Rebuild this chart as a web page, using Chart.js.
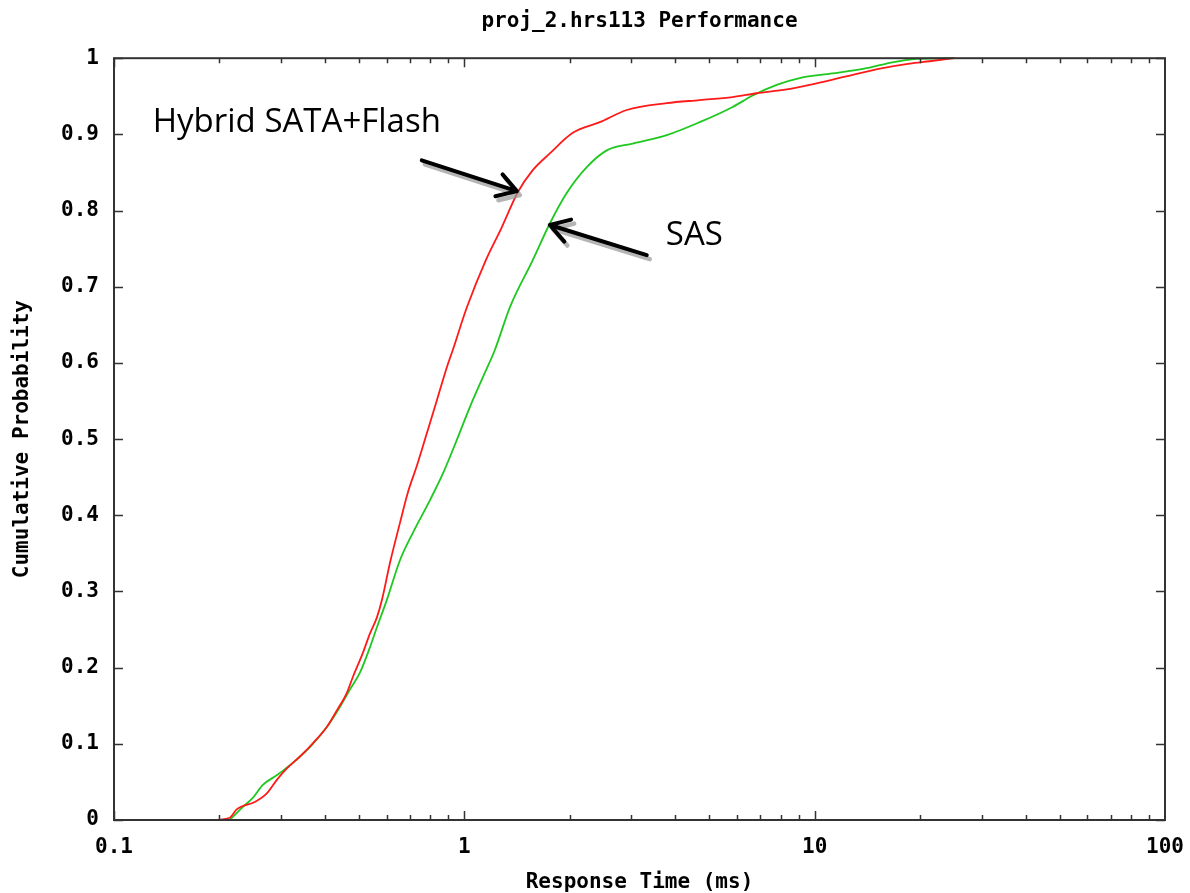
<!DOCTYPE html>
<html>
<head>
<meta charset="utf-8">
<title>proj_2.hrs113 Performance</title>
<script src="https://cdn.jsdelivr.net/npm/chart.js@4.4.1/dist/chart.umd.min.js"></script>
<style>
  html, body { margin: 0; padding: 0; background: #fff; }
  #wrap { width: 1190px; height: 893px; }
</style>
</head>
<body>
<div id="wrap"><canvas id="perfChart"></canvas></div>
<script>
// response time (ms) and cumulative probability
const hybridTime = [0.191, 0.214, 0.224, 0.253, 0.273, 0.292, 0.312, 0.339, 0.370, 0.405, 0.433, 0.462, 0.481, 0.513, 0.538, 0.563, 0.582, 0.613, 0.655, 0.690, 0.732, 0.782, 0.835, 0.891, 0.927, 1.017, 1.152, 1.279, 1.421, 1.568, 1.754, 2.040, 2.436, 2.909, 3.783, 4.697, 5.834, 6.831, 8.321, 10.13, 12.02, 15.63, 18.66, 21.29, 25.08];
const hybridProb = [0, 0.003, 0.014, 0.024, 0.035, 0.053, 0.068, 0.083, 0.101, 0.122, 0.144, 0.167, 0.188, 0.219, 0.245, 0.266, 0.289, 0.337, 0.390, 0.430, 0.465, 0.508, 0.551, 0.594, 0.617, 0.673, 0.735, 0.778, 0.824, 0.853, 0.875, 0.902, 0.916, 0.932, 0.941, 0.945, 0.949, 0.954, 0.959, 0.967, 0.975, 0.987, 0.993, 0.996, 1.0];

const sasTime = [0.214, 0.233, 0.249, 0.266, 0.292, 0.318, 0.363, 0.405, 0.441, 0.471, 0.503, 0.538, 0.563, 0.601, 0.655, 0.713, 0.798, 0.869, 0.952, 1.037, 1.129, 1.222, 1.349, 1.568, 1.754, 1.960, 2.236, 2.551, 3.025, 3.783, 4.697, 5.834, 6.654, 7.790, 9.062, 11.25, 14.07, 16.05, 19.54, 24.75];
const sasProb = [0, 0.017, 0.029, 0.046, 0.059, 0.072, 0.096, 0.122, 0.148, 0.171, 0.193, 0.227, 0.253, 0.289, 0.341, 0.377, 0.420, 0.455, 0.499, 0.542, 0.581, 0.617, 0.673, 0.735, 0.783, 0.823, 0.857, 0.879, 0.888, 0.899, 0.916, 0.936, 0.951, 0.965, 0.974, 0.980, 0.987, 0.993, 0.999, 1.0];

const xTickValues = [0.1, 1, 10, 100];
const xTickLabels = ['0.1', '1', '10', '100'];
const yTickLabels = ['0', '0.1', '0.2', '0.3', '0.4', '0.5', '0.6', '0.7', '0.8', '0.9', '1'];

const gnuFont = '"DejaVu Sans Mono", monospace';

function toPoints(xs, ys) {
    return xs.map((x, i) => ({ x: x, y: ys[i] }));
}

// hand-drawn labels with arrows, placed in data units
const notes = [
    { text: 'Hybrid SATA+Flash', tx: 0.129, ty: 0.903, from: [0.756, 0.866], to: [1.412, 0.8255] },
    { text: 'SAS', tx: 3.76, ty: 0.755, from: [3.317, 0.7415], to: [1.754, 0.781] }
];

// gnuplot style frame with inward ticks on all four sides
const framePlugin = {
    id: 'frame',
    afterDatasetsDraw(chart) {
        const { ctx, chartArea: a, scales: { x, y } } = chart;
        ctx.save();
        ctx.strokeStyle = '#333';
        ctx.lineWidth = 2;
        ctx.strokeRect(a.left, a.top, a.right - a.left, a.bottom - a.top);
        ctx.lineWidth = 1.5;
        ctx.beginPath();
        [0.1, 1, 10].forEach(d => {
            for (let m = 1; m <= 9; m++) {
                const px = Math.round(x.getPixelForValue(d * m)) + 0.5;
                const len = m === 1 ? 9 : 5;
                ctx.moveTo(px, a.bottom); ctx.lineTo(px, a.bottom - len);
                ctx.moveTo(px, a.top); ctx.lineTo(px, a.top + len);
            }
        });
        yTickLabels.forEach(t => {
            const py = Math.round(y.getPixelForValue(parseFloat(t))) + 0.5;
            ctx.moveTo(a.left, py); ctx.lineTo(a.left + 9, py);
            ctx.moveTo(a.right, py); ctx.lineTo(a.right - 9, py);
        });
        ctx.stroke();
        ctx.restore();
    }
};

function arrow(ctx, x1, y1, x2, y2) {
    const ang = Math.atan2(y1 - y2, x1 - x2);
    const hl = 22, spread = 0.55;
    ctx.beginPath();
    ctx.moveTo(x1, y1); ctx.lineTo(x2, y2);
    ctx.moveTo(x2 + hl * Math.cos(ang + spread), y2 + hl * Math.sin(ang + spread));
    ctx.lineTo(x2, y2);
    ctx.lineTo(x2 + hl * Math.cos(ang - spread), y2 + hl * Math.sin(ang - spread));
    ctx.stroke();
}

const notesPlugin = {
    id: 'notes',
    afterDraw(chart) {
        const { ctx, scales: { x, y } } = chart;
        ctx.save();
        ctx.font = '33px "Open Sans", sans-serif';
        ctx.fillStyle = '#000';
        ctx.textBaseline = 'alphabetic';
        ctx.lineCap = 'round';
        ctx.lineJoin = 'round';
        notes.forEach(n => {
            ctx.fillText(n.text, x.getPixelForValue(n.tx), y.getPixelForValue(n.ty));
            const x1 = x.getPixelForValue(n.from[0]), y1 = y.getPixelForValue(n.from[1]);
            const x2 = x.getPixelForValue(n.to[0]), y2 = y.getPixelForValue(n.to[1]);
            ctx.strokeStyle = 'rgba(150,150,150,0.7)';
            ctx.lineWidth = 4.5;
            arrow(ctx, x1 + 3, y1 + 4, x2 + 3, y2 + 4);
            ctx.strokeStyle = '#000';
            ctx.lineWidth = 4;
            arrow(ctx, x1, y1, x2, y2);
        });
        ctx.restore();
    }
};

const tickFont = { family: gnuFont, size: 21, weight: 'bold', lineHeight: 1.2 };

const ctx = document.getElementById('perfChart').getContext('2d');
const perfChart = new Chart(ctx, {
    type: 'line',
    data: {
        datasets: [{
            label: 'Hybrid SATA+Flash',
            data: toPoints(hybridTime, hybridProb),
            borderColor: '#ff1a1a',
            borderWidth: 1.8,
            pointRadius: 0,
            cubicInterpolationMode: 'monotone',
            clip: false
        }, {
            label: 'SAS',
            data: toPoints(sasTime, sasProb),
            borderColor: '#1ec81e',
            borderWidth: 1.8,
            pointRadius: 0,
            cubicInterpolationMode: 'monotone',
            clip: false
        }]
    },
    options: {
        responsive: true,
        maintainAspectRatio: false,
        animation: false,
        layout: { padding: { left: 0, right: 25, top: 0, bottom: 0 } },
        scales: {
            x: {
                type: 'logarithmic',
                min: 0.1,
                max: 100,
                afterBuildTicks: s => { s.ticks = xTickValues.map(v => ({ value: v, major: true })); },
                afterFit: s => { s.height = 73; s.paddingLeft = 0; s.paddingRight = 0; },
                grid: { display: false, drawTicks: false },
                border: { display: false },
                ticks: {
                    autoSkip: false,
                    maxRotation: 0,
                    padding: 15,
                    color: '#000',
                    font: tickFont,
                    callback: (v, i) => xTickLabels[i]
                },
                title: {
                    display: true,
                    text: 'Response Time (ms)',
                    color: '#000',
                    font: { family: gnuFont, size: 21, weight: 'bold', lineHeight: 1 },
                    padding: { top: 0, bottom: 0 }
                }
            },
            y: {
                min: 0,
                max: 1,
                afterBuildTicks: s => { s.ticks = yTickLabels.map(t => ({ value: parseFloat(t) })); },
                afterFit: s => { s.width = 114; },
                grid: { display: false, drawTicks: false },
                border: { display: false },
                ticks: {
                    padding: 15,
                    color: '#000',
                    font: tickFont,
                    callback: (v, i) => yTickLabels[i]
                },
                title: {
                    display: true,
                    text: 'Cumulative Probability',
                    color: '#000',
                    font: { family: gnuFont, size: 21, weight: 'bold', lineHeight: 1 },
                    padding: { top: 12, bottom: 0 }
                }
            }
        },
        plugins: {
            legend: { display: false },
            tooltip: { enabled: false },
            title: {
                display: true,
                fullSize: false,
                text: 'proj_2.hrs113 Performance',
                color: '#000',
                font: tickFont,
                padding: { top: 9, bottom: 24 }
            }
        }
    },
    plugins: [framePlugin, notesPlugin]
});
</script>
</body>
</html>
